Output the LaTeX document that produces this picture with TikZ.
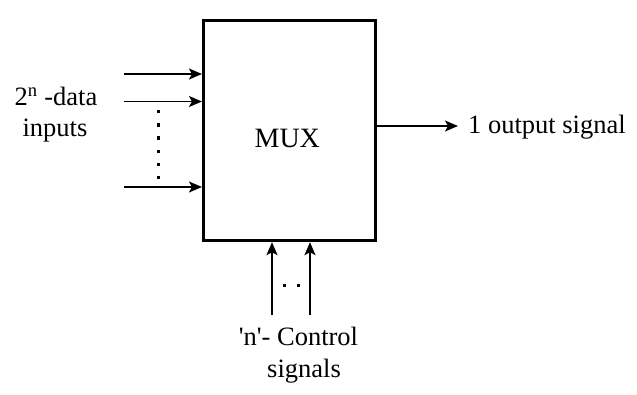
\documentclass[tikz,border=0pt]{standalone}
\usepackage{fontspec}
\setmainfont{Liberation Serif}
\usetikzlibrary{arrows.meta}
\begin{document}
\begin{tikzpicture}[x=1pt,y=-1pt,
  arr/.style={line width=1.6pt, -{Stealth[length=13pt,width=11pt,inset=3pt]}},
  lbl/.style={inner sep=0pt, font=\fontsize{26.5}{31}\selectfont},
  muxbox/.style={draw, line width=3pt, minimum width=172.5pt, minimum height=220pt, inner sep=0pt},
  sqdot/.style={fill=black}]
\useasboundingbox (0,0) rectangle (637,394);
% block
\node[muxbox] (mux) at (289.7,130.7) {};
\node[lbl, font=\fontsize{28}{30}\selectfont, anchor=base] (muxl) at (287.3,147.3) {MUX};
% data inputs
\coordinate (in1) at (124,74);
\coordinate (in2) at (124,101.5);
\coordinate (in3) at (124,187);
\draw[arr] (in1) -- (in1 -| mux.west);
\draw[arr] (in2) -- (in2 -| mux.west);
\draw[arr] (in3) -- (in3 -| mux.west);
\foreach \i in {0,...,5}
  \fill[sqdot] (156.8,{110.2+13.1*\i}) rectangle +(3.2,3.2);
\node[lbl, anchor=base] (dl1) at (56,105.5) {2\textsuperscript{n} -data};
\node[lbl, anchor=base] (dl2) at (55,136.7) {inputs};
% output
\node[lbl, anchor=base west] (out) at (468,133) {1 output signal};
\coordinate (outc) at (458,126);
\draw[arr] (outc -| mux.east) -- (outc);
% control
\coordinate (c1) at (272,315);
\coordinate (c2) at (310,315);
\draw[arr] (c1) -- (c1 |- mux.south);
\draw[arr] (c2) -- (c2 |- mux.south);
\fill[sqdot] (282.5,283.5) rectangle +(3.2,3.2);
\fill[sqdot] (296.5,283.5) rectangle +(3.2,3.2);
\node[lbl, anchor=base] (cl1) at (298.5,345) {\textquotesingle n\textquotesingle- Control};
\node[lbl, anchor=base] (cl2) at (304,377.5) {signals};
\end{tikzpicture}
\end{document}
